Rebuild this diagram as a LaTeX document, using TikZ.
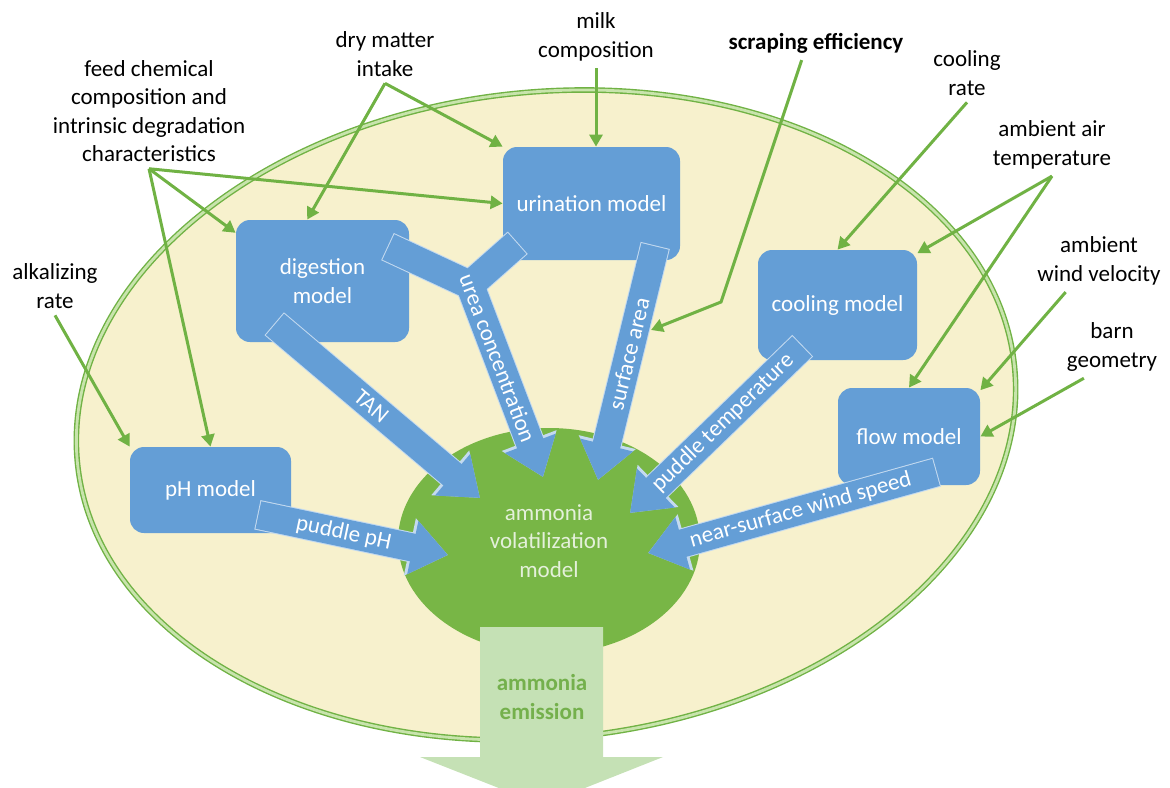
\documentclass[tikz,border=0pt]{standalone}
\usepackage{fontspec}
\setmainfont{Carlito}
\usetikzlibrary{arrows.meta, shapes.geometric, calc}

\definecolor{barnyellow}{RGB}{247,241,205}
\definecolor{ringgreen}{RGB}{112,178,68}
\definecolor{ringlight}{RGB}{200,228,172}
\definecolor{volgreen}{RGB}{120,182,70}
\definecolor{voltext}{RGB}{228,240,218}
\definecolor{modelblue}{RGB}{100,158,214}
\definecolor{fluxedge}{RGB}{196,218,240}
\definecolor{emitfill}{RGB}{197,225,181}
\definecolor{emittext}{RGB}{116,176,76}

\begin{document}
\begin{tikzpicture}[
			x=0.5pt, y=-0.5pt,
			font=\fontsize{11.5}{14.2}\selectfont,
			model/.style={fill=modelblue, rounded corners=7pt, text=white, align=center, inner sep=0pt},
			factor/.style={align=center},
			feed/.style={draw=ringgreen, line width=1.5pt, -{Triangle[length=6pt, width=6.5pt]}},
			flux edge/.style={draw=fluxedge, line width=15pt, shorten <=-0.5pt, -{Triangle[length=19.5pt, width=28pt]}},
			flux core/.style={draw=modelblue, line width=14pt, -{Triangle[length=18pt, width=26pt]}},
			flux/.style={flux core, preaction={flux edge}},
			flux label/.style={sloped, text=white, inner sep=0pt},
			ring/.style={draw=ringgreen, line width=0.7pt, double=ringlight, double distance=1.4pt}
			]
			\useasboundingbox (0,0) rectangle (1170,787);
			\draw[ring, fill=barnyellow, rotate around={6:(546,415)}] (546,415) ellipse [x radius=235.5pt, y radius=161.5pt];

			\node[ellipse, fill=volgreen, text=voltext, align=center, inner sep=0pt, minimum width=151pt, minimum height=113pt] (vol) at (549,541) {ammonia\\volatilization\\model};
			\node[model, minimum width=88.5pt, minimum height=56.5pt] (urination) at (591.5,203.5) {urination model};
			\node[model, minimum width=86.5pt, minimum height=61pt] (digestion) at (322.5,281) {digestion\\model};
			\node[model, minimum width=80.5pt, minimum height=43pt] (ph) at (210.5,490) {pH model};
			\node[model, minimum width=79.5pt, minimum height=55pt] (cooling) at (837.5,305) {cooling model};
			\node[model, minimum width=71pt, minimum height=48.5pt] (flow) at (909,436.5) {flow model};

			\node[factor] (feedchem) at (149,111) {feed chemical\\composition and\\intrinsic degradation\\characteristics};
			\node[factor] (drymatter) at (385,54) {dry matter\\intake};
			\node[factor] (milk) at (596,37) {milk\\composition};
			\node[factor, font=\fontsize{11.5}{14.2}\selectfont\bfseries] (scraping) at (816,43) {scraping efficiency};
			\node[factor] (coolrate) at (967,73) {cooling\\rate};
			\node[factor] (airtemp) at (1052,145) {ambient air\\temperature};
			\node[factor] (wind) at (1099,261) {ambient\\wind velocity};
			\node[factor] (barn) at (1112,347) {barn\\geometry};
			\node[factor] (alkali) at (55,286) {alkalizing\\rate};

			\coordinate (ureajoint) at (470,285);
			\coordinate (scrapebend) at (721,302);
			\coordinate (scrapetip) at (651,330);

			\draw[flux] ($(digestion.south)+(-47.5,-18)$) -- node[flux label, pos=0.47] {TAN} ($(vol)+(-69,-43)$);
			\draw[flux] ($(ph.east)+(-33,25)$) -- node[flux label, pos=0.45] {puddle pH} ($(vol)+(-101,14)$);
			\draw[flux edge, -] ($(urination.south)+(-74.5,-17)$) -- (ureajoint);
			\draw[flux, line join=round] ($(digestion.east)+(-21,-34)$) -- (ureajoint) -- ($(vol)+(-6,-64)$);
			\draw[flux core, -] ($(urination.south)+(-74.5,-17)$) -- (ureajoint);
			\path (ureajoint) -- node[flux label, pos=0.38] {urea concentration} ($(vol)+(-6,-64)$);
			\draw[flux] ($(urination.south)+(63.5,-14)$) -- node[flux label, pos=0.46] {surface area} ($(vol)+(49,-61)$);
			\draw[flux] ($(cooling.south)+(-35.5,-14)$) -- node[flux label, pos=0.46] {puddle temperature} ($(vol)+(81,-28)$);
			\draw[flux] ($(flow.south)+(27,-13)$) -- node[flux label, pos=0.47] {near-surface wind speed} ($(vol)+(99,12)$);

			\fill[emitfill] (480,627) -- (603,627) -- (603,757) -- (663,757) -- (542,805) -- (420,757) -- (480,757) -- cycle;
			\node[align=center, text=emittext, font=\fontsize{11.5}{14.2}\selectfont\bfseries] (emission) at (542,697) {ammonia\\emission};

			\draw[feed] (feedchem.south) -- (digestion.151);
			\draw[feed] (feedchem.south) -- (urination.west);
			\draw[feed] (feedchem.south) -- (ph.north);
			\draw[feed] (drymatter.south) -- (digestion.104);
			\draw[feed] (drymatter.south) -- (urination.north west);
			\draw[feed] (milk.south) -- (milk.south |- urination.north);
			\draw[feed] (scraping.-130) -- (scrapebend) -- (scrapetip);
			\draw[feed] (coolrate.south) -- (cooling.north);
			\draw[feed] (airtemp.south) -- (cooling.33);
			\draw[feed] (airtemp.south) -- (flow.north);
			\draw[feed] (wind.-137) -- (flow.33);
			\draw[feed] (barn.-132) -- (flow.east);
			\draw[feed] (alkali.south) -- (ph.north west);
		\end{tikzpicture}
\end{document}
